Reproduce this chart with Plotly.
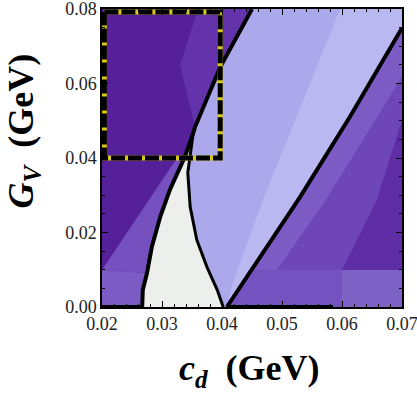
import plotly.graph_objects as go

# ---- data ----
x_ticks = [0.02, 0.03, 0.04, 0.05, 0.06, 0.07]
x_tick_labels = ["0.02", "0.03", "0.04", "0.05", "0.06", "0.07"]
y_ticks = [0.00, 0.02, 0.04, 0.06, 0.08]
y_tick_labels = ["0.00", "0.02", "0.04", "0.06", "0.08"]
x_title = "<b><i>c</i></b><sub><b><i>d</i></b></sub><b>  (GeV)</b>"
y_title = "<b><i>G</i></b><sub><b><i>V</i></b></sub><b>  (GeV)</b>"

# left boundary line (dark region | allowed region)
left_line_x = [0.0450, 0.0397, 0.0355, 0.0352, 0.0338, 0.0313, 0.0297, 0.0283, 0.0275, 0.0268, 0.0267]
left_line_y = [0.0800, 0.0644, 0.0483, 0.0467, 0.0403, 0.0314, 0.0242, 0.0161, 0.0091, 0.0046, 0.0000]

# right boundary of the white region
white_right_x = [0.0352, 0.0343, 0.0347, 0.0358, 0.0375, 0.0392, 0.0402]
white_right_y = [0.0467, 0.0360, 0.0268, 0.0180, 0.0107, 0.0046, 0.0000]

# right boundary line
right_line_x = [0.0408, 0.0530, 0.0613, 0.0700]
right_line_y = [0.0000, 0.0295, 0.0510, 0.0749]

# shading sub-regions
light_wedge_x = [0.0597, 0.0468, 0.0418, 0.0408]
light_wedge_y = [0.0800, 0.0287, 0.0064, 0.0000]
lower_left_band_x = [0.0200, 0.0325]
lower_left_band_y = [0.0099, 0.0400]
dark_corner_x = [0.0700, 0.0658, 0.0600, 0.0700]
dark_corner_y = [0.0502, 0.0287, 0.0099, 0.0099]
fan_x = [0.0330, 0.0360]
fan_y = [0.0650, 0.0800]

# dashed rectangle
rect_x = [0.0204, 0.0397, 0.0397, 0.0204, 0.0204]
rect_y = [0.0792, 0.0792, 0.0400, 0.0400, 0.0792]

X0, X1, Y0, Y1 = 0.02, 0.07, 0.0, 0.08

DARK = "#55209a"
MED = "#6e46b8"
MED_L = "#7d5bc5"
LAV = "#aba8eb"
LAV_L = "#b9b8f1"
WHITE = "#edefec"

fig = go.Figure()


def poly(xs, ys, color):
    fig.add_trace(go.Scatter(x=xs, y=ys, mode="lines", fill="toself",
                             fillcolor=color, line=dict(width=0, color=color),
                             hoverinfo="skip", showlegend=False))


# lavender region between the two lines
lav_x = left_line_x + [right_line_x[0]] + right_line_x + [X1]
lav_y = left_line_y + [Y0] + right_line_y + [Y1]
poly(lav_x, lav_y, LAV)

# lighter wedge near the right line
wedge_x = light_wedge_x + right_line_x + [X1]
wedge_y = light_wedge_y + right_line_y + [Y1]
poly(wedge_x, wedge_y, LAV_L)

# upper-left textured fan
poly([fan_x[0], fan_x[1], left_line_x[0], left_line_x[1], left_line_x[2]],
     [fan_y[0], fan_y[1], left_line_y[0], left_line_y[1], left_line_y[2]], "#6433ac")

# lower-left lighter band
band_x = [lower_left_band_x[0], lower_left_band_x[1]] + left_line_x[4:9] + [lower_left_band_x[0]]
band_y = [lower_left_band_y[0], lower_left_band_y[1]] + left_line_y[4:9] + [lower_left_band_y[0]]
poly(band_x, band_y, "#7650bf")

# bottom-left strip
strip_x = [X0, X0, left_line_x[8]] + left_line_x[9:]
strip_y = [Y0, lower_left_band_y[0], left_line_y[8]] + left_line_y[9:]
poly(strip_x, strip_y, MED_L)

# white region
white_x = left_line_x[3:] + white_right_x[::-1]
white_y = left_line_y[3:] + white_right_y[::-1]
poly(white_x, white_y, WHITE)

# right purple region
rr_x = right_line_x + [X1]
rr_y = right_line_y + [Y0]
poly(rr_x, rr_y, MED)

# lighter band along the right line
band2_x = right_line_x + [X1, right_line_x[2] + 0.004, right_line_x[1] + 0.004, right_line_x[0] + 0.004]
band2_y = right_line_y + [right_line_y[3] - 0.013, right_line_y[2] - 0.0015, right_line_y[1] - 0.0015, Y0]
poly(band2_x, band2_y, MED_L)

# darker lower-right corner
poly(dark_corner_x, dark_corner_y, "#5e2ca5")

# bottom strip on the right
poly([right_line_x[0], 0.0445, 0.0600, 0.0600, right_line_x[0]],
     [Y0, 0.0099, 0.0099, Y0, Y0], "#7452bf")
poly([0.0600, 0.0600, X1, X1, 0.0600],
     [Y0, 0.0099, 0.0099, Y0, Y0], "#7d62c6")

# boundary lines
fig.add_trace(go.Scatter(x=left_line_x, y=left_line_y, mode="lines",
                         line=dict(color="black", width=4), hoverinfo="skip", showlegend=False))
fig.add_trace(go.Scatter(x=white_right_x, y=white_right_y, mode="lines",
                         line=dict(color="black", width=3), hoverinfo="skip", showlegend=False))
fig.add_trace(go.Scatter(x=right_line_x, y=right_line_y, mode="lines",
                         line=dict(color="black", width=4), hoverinfo="skip", showlegend=False))
fig.add_trace(go.Scatter(x=[X0, left_line_x[-1]], y=[Y0, Y0], mode="lines",
                         line=dict(color="black", width=4), hoverinfo="skip", showlegend=False))
fig.add_trace(go.Scatter(x=[right_line_x[0], 0.0585], y=[Y0, Y0], mode="lines",
                         line=dict(color="black", width=4), hoverinfo="skip", showlegend=False))

# dashed rectangle: yellow under black dashes
fig.add_trace(go.Scatter(x=rect_x, y=rect_y, mode="lines",
                         line=dict(color="#d8c81c", width=5), hoverinfo="skip", showlegend=False))
fig.add_trace(go.Scatter(x=rect_x, y=rect_y, mode="lines",
                         line=dict(color="black", width=5, dash="14px,3px"),
                         hoverinfo="skip", showlegend=False))

axis_font = dict(family="Liberation Serif", size=18, color="#222222")
title_font = dict(family="Liberation Serif", size=36, color="black")

fig.update_layout(
    width=417, height=394,
    margin=dict(l=102, r=15, t=9, b=87),
    paper_bgcolor="white",
    plot_bgcolor=DARK,
    showlegend=False,
    xaxis=dict(
        range=[X0, X1], tickvals=x_ticks, ticktext=x_tick_labels,
        ticks="inside", ticklen=6, tickwidth=1, tickcolor="black",
        minor=dict(dtick=0.002, tick0=0.02, ticks="inside", ticklen=3, tickcolor="black"),
        showline=True, linecolor="black", linewidth=1.5, mirror="allticks",
        showgrid=False, zeroline=False, tickfont=axis_font, automargin=False,
        ticklabeloverflow="allow",
    ),
    yaxis=dict(
        range=[Y0, Y1], tickvals=y_ticks, ticktext=y_tick_labels,
        ticks="inside", ticklen=6, tickwidth=1, tickcolor="black",
        minor=dict(dtick=0.005, tick0=0, ticks="inside", ticklen=3, tickcolor="black"),
        showline=True, linecolor="black", linewidth=1.5, mirror="allticks",
        showgrid=False, zeroline=False, tickfont=axis_font, automargin=False,
        ticklabeloverflow="allow",
    ),
    annotations=[
        dict(text=x_title, xref="paper", yref="paper", x=0.493, y=-0.213,
             xanchor="center", yanchor="middle", showarrow=False, font=title_font),
        dict(text=y_title, xref="paper", yref="paper", x=-0.262, y=0.59,
             xanchor="center", yanchor="middle", textangle=-90, showarrow=False,
             font=title_font),
    ],
)

fig.write_html("out.html", config={"displayModeBar": False},
               post_script="document.body.style.margin='0';")
